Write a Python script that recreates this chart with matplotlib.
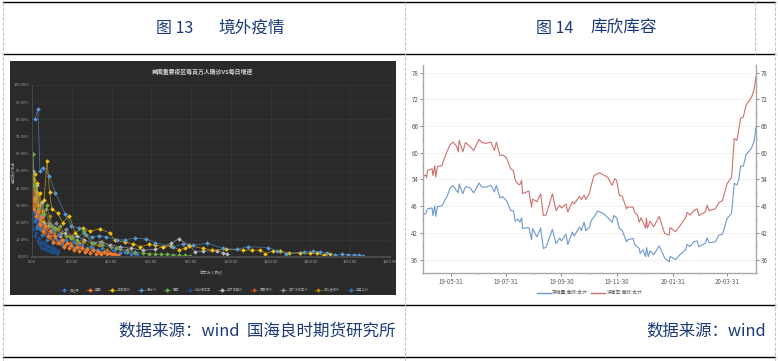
import datetime as dt

import matplotlib
matplotlib.use('Agg')
import matplotlib.pyplot as plt
import matplotlib.dates as mdates
from matplotlib.colors import to_rgba
from matplotlib.patches import Rectangle

plt.rcParams['font.family'] = ['Noto Sans CJK SC', 'DejaVu Sans']

# ---- left chart data: cases per million vs daily growth (%)
names = ['西班牙', '美国', '新泽西州', '纽约州', '巴西', '加利福尼亚', '马萨诸塞州',
         '密歇根州', '宾夕法尼亚州', '伊利诺伊州', '马里兰州']
colors = ['#3f78c8', '#ee7d31', '#f5c211', '#5b9bd5', '#70ad47', '#1f4e8c',
          '#b8b8b8', '#c55a11', '#8c8c8c', '#b8860b', '#2e75b6']

spain_x = [3, 8, 14, 20, 26, 33, 42, 50, 60, 72, 85, 100, 115, 130, 150, 170, 190, 210, 230, 250, 275, 300, 325, 350, 380, 410, 440, 470, 500, 530]
spain_y = [36, 30, 26, 22, 18, 24, 16, 19, 14, 17, 12, 15, 11, 13, 9, 10, 8, 9, 6, 7, 5, 6, 4, 5, 3, 4, 2.5, 3, 1.5, 1.5]
usa_x = [4, 9, 15, 22, 30, 38, 46, 56, 66, 78, 90, 104, 118, 134, 150, 162, 174, 186, 198, 210, 224, 236, 250, 264, 278, 292, 306, 320, 334, 348, 362, 376, 390, 404, 418, 432]
usa_y = [33, 28, 35, 24, 27, 19, 23, 15, 18, 12, 15, 9, 12, 8, 10, 6, 8, 5, 7, 4, 6, 3.5, 5, 3, 4.5, 2.5, 4, 2, 3.5, 2, 3, 1.5, 2.5, 1.5, 2, 1.2]
nj_x = [8, 14, 20, 26, 32, 40, 48, 60, 76, 88, 100, 129, 154, 187, 218, 254, 293, 340, 390, 418, 469, 507, 544, 586, 620, 661, 700, 740, 770, 790, 860, 905, 975, 1060, 1105, 1147, 1172, 1210, 1248, 1290, 1345, 1400, 1435, 1469, 1499]
nj_y = [34, 48, 31, 43, 25, 37, 21, 33, 56, 38, 28, 25.6, 20, 24, 14, 17, 15, 16.5, 14, 9.7, 8.7, 7.7, 6, 7.3, 7, 6, 6.5, 4.2, 5, 6.6, 5, 4, 4.4, 4, 4, 4, 2, 3.4, 3.4, 2.3, 2.2, 2.1, 2.2, 1, 1.8]
ny_x = [15, 30, 40, 55, 87, 117, 167, 197, 234, 262, 300, 338, 373, 427, 468, 519, 574, 619, 711, 761, 811, 880, 960, 1030, 1087, 1188, 1230, 1278, 1368, 1413, 1450, 1484, 1524, 1560, 1590, 1620, 1645, 1665]
ny_y = [80, 86, 50, 52, 47, 37.5, 25, 18, 17, 14, 11.5, 12.5, 11.5, 10, 10, 11, 10.5, 8.3, 6, 7.7, 6.7, 8, 5, 4.5, 6, 5.5, 3.2, 2, 3, 3.4, 3, 2.5, 1.1, 1.6, 1.3, 1.3, 1.3, 0.6]
brazil_x = [5, 12, 20, 30, 42, 58, 75, 95, 118, 142, 170, 200, 225, 260, 300, 350, 420, 480, 520, 560, 590, 620, 650, 680, 710, 740, 770, 795]
brazil_y = [60, 42, 35, 28, 22, 25, 30, 18, 16, 18, 12, 11, 10, 15, 8, 7, 5, 3, 2.6, 2.3, 1.9, 1.7, 1.6, 1.5, 1.3, 1.1, 0.9, 0.5]
calif_x = [5, 10, 16, 22, 28, 34, 40, 46, 52, 58, 64, 70, 76, 82, 88, 94, 100, 106, 112, 118, 124, 130]
calif_y = [22, 16, 12, 14, 9, 11, 7, 9, 5.5, 8, 4.5, 7, 4, 6.5, 3.5, 6, 3, 5, 2.8, 4.5, 2.5, 3.5]
mass_x = [6, 14, 24, 36, 48, 62, 78, 96, 116, 140, 166, 196, 228, 262, 300, 345, 390, 440, 500, 560, 620, 660, 700, 737, 790, 820, 860, 930, 960, 980]
mass_y = [50, 31, 42, 24, 32, 20, 18, 15, 17, 12, 14, 11, 12, 10, 8, 9, 7, 6, 5, 4, 4.5, 6, 8, 10.5, 7, 3, 3.5, 3.5, 2.6, 2]
mich_x = [4, 9, 15, 22, 30, 40, 50, 62, 76, 90, 106, 124, 144, 166, 190, 216, 244, 274, 306, 340, 376, 412]
mich_y = [37, 29, 31, 24, 26, 18, 22, 14, 17, 11, 13, 8, 10, 7, 8, 5, 6, 3.5, 4, 2.5, 3, 1.5]
penn_x = [5, 10, 16, 24, 32, 42, 54, 68, 84, 102, 122, 146, 172, 202, 234, 270, 310, 350, 395, 440, 480, 520]
penn_y = [60, 45, 34, 38, 26, 30, 24, 28, 20, 18, 20, 14, 16, 12, 8, 13, 8, 9, 6, 4.5, 4, 3]
illin_x = [6, 12, 20, 30, 42, 56, 72, 90, 110, 132, 158, 188, 220, 256, 296, 336, 376]
illin_y = [46, 35, 30, 36, 22, 27, 18, 24, 14, 16, 10, 12, 8, 9, 6, 7, 4]
mary_x = [4, 10, 18, 26, 36, 48, 60, 74, 90, 108, 128, 150, 176, 204, 236, 270, 306, 346]
mary_y = [30, 21, 25, 17, 20, 13, 16, 10, 12, 8, 10, 7, 8, 6, 6.5, 4, 4.5, 3]

series_x = [spain_x, usa_x, nj_x, ny_x, brazil_x, calif_x, mass_x, mich_x, penn_x, illin_x, mary_x]
series_y = [spain_y, usa_y, nj_y, ny_y, brazil_y, calif_y, mass_y, mich_y, penn_y, illin_y, mary_y]
# later entries are drawn on top
draw_order = [6, 8, 9, 2, 3, 4, 0, 10, 7, 1, 5]
pct_ticks = list(range(0, 101, 10))
case_ticks = list(range(0, 1801, 200))

# ---- right chart data: days after 2019-04-30
stock_days = [0, 1, 3, 5, 10, 11, 13, 14, 16, 21, 27, 30, 33, 39, 40, 44, 47, 52, 56, 62, 65, 70, 75, 79, 81, 85, 88, 92, 97, 100, 102, 105, 107, 109, 110, 117, 120, 121, 126, 130, 133, 136, 143, 147, 151, 153, 158, 160, 165, 167, 173, 175, 178, 180, 184, 186, 189, 193, 200, 209, 211, 214, 217, 220, 225, 226, 232, 234, 239, 240, 243, 246, 247, 249, 251, 255, 261, 267, 272, 273, 279, 284, 290, 292, 295, 299, 303, 305, 312, 314, 316, 323, 327, 331, 336, 341, 344, 347, 349, 351, 354, 357, 363, 366, 368]
stock_vals = [45.9, 46.2, 46.3, 47.4, 47.6, 45.9, 48.1, 45.7, 47.9, 48.1, 50.4, 52.1, 52.6, 51, 53, 50.8, 52.4, 52.1, 51, 53.2, 52.3, 52.3, 52.7, 51.2, 52.7, 49.9, 50.1, 49.3, 47, 47, 44.6, 45.1, 44.4, 45.4, 43, 43.2, 40.5, 43, 41.1, 43.1, 38.5, 38.8, 42.8, 39.6, 40.8, 40.2, 41.7, 39.4, 42.2, 41.3, 43.3, 42.5, 44.4, 42.5, 43.3, 44.8, 45.6, 46.9, 46.3, 44.4, 45.9, 45.4, 43, 42.6, 40, 40.4, 40.8, 39.4, 38.5, 37.4, 38.2, 36.7, 38.7, 36.7, 38, 37.1, 39.1, 36.4, 35.5, 36.7, 36, 37.1, 38.2, 39.4, 38.9, 40, 40.2, 38.9, 39.7, 40.9, 39.8, 40, 41.5, 41.7, 45.2, 46.4, 53.1, 52.8, 54, 57, 57, 59.6, 61, 62.7, 65.8]
full_days = [0, 1, 3, 4, 5, 10, 11, 13, 14, 16, 21, 22, 27, 30, 33, 37, 39, 40, 44, 47, 52, 56, 62, 65, 70, 75, 79, 81, 85, 88, 92, 97, 100, 102, 105, 107, 109, 110, 117, 120, 121, 126, 130, 133, 136, 143, 147, 151, 153, 158, 160, 165, 167, 173, 175, 178, 180, 184, 186, 189, 195, 204, 209, 212, 214, 217, 220, 225, 226, 232, 234, 237, 239, 241, 246, 247, 248, 251, 255, 261, 267, 272, 273, 279, 284, 290, 292, 295, 299, 303, 305, 312, 314, 316, 323, 327, 331, 336, 341, 344, 347, 351, 354, 357, 363, 366, 368]
full_vals = [54.2, 54.8, 55, 54.4, 56, 56.4, 54.9, 57.1, 54.5, 56.9, 57.1, 57.9, 60.5, 61.8, 62.4, 61.5, 60.2, 62.8, 60.2, 62.3, 61.4, 60.5, 63, 62.3, 62.1, 62.4, 60.5, 62.4, 59.4, 59.5, 58.9, 56.4, 55.9, 53.8, 53, 52.8, 53.8, 50.8, 51.4, 47.8, 49.6, 49, 50.8, 45.9, 46, 50.8, 47, 48.2, 47.6, 48.5, 46.7, 49, 48.5, 50.2, 49.5, 50.5, 49.5, 51, 52.7, 54.9, 55.5, 54.5, 52.7, 54.2, 53.8, 50.4, 50.3, 47.4, 47.8, 47.8, 46.6, 46, 44.4, 45.4, 43.1, 45.4, 43.1, 44.6, 43.4, 45.7, 41.9, 41.5, 43.2, 42.3, 43.6, 45.4, 46.6, 46, 47, 47.4, 45.9, 46.7, 48.2, 47, 47.4, 48.8, 49.3, 53, 54.5, 63.2, 62.8, 67.8, 68, 70.7, 72.4, 74.3, 77.2]
start_date = dt.date(2019, 4, 30)
date_ticks = ['2019-05-31', '2019-07-31', '2019-09-30', '2019-11-30', '2020-01-31', '2020-03-31']
date_minor = ['2019-06-30', '2019-08-31', '2019-10-31', '2019-12-31', '2020-02-29']
left_ticks = [36, 42, 48, 54, 60, 66, 72, 78]
minor_ticks = [33, 39, 45, 51, 57, 63, 69, 75]

W, H = 778, 361
NAVY = '#1c3a7a'


def px_axes(fig, x0, y0, x1, y1):
    # pixel box (y from top) -> axes
    return fig.add_axes([x0 / W, 1 - y1 / H, (x1 - x0) / W, (y1 - y0) / H])


def main():
    fig = plt.figure(figsize=(W / 100, H / 100), dpi=100, facecolor='white')

    # table frame and panel
    bg = fig.add_axes([0, 0, 1, 1])
    bg.set_xlim(0, W)
    bg.set_ylim(H, 0)
    bg.axis('off')
    for y in [2, 54, 305, 357]:
        bg.plot([3, 775], [y, y], color='black', lw=1.0)
    for x in [3, 405, 775]:
        bg.plot([x, x], [2, 361], color='#c4c4c4', lw=0.8, ls=(0, (3, 1.5)))
    bg.plot([755, 755], [2, 54], color='#c4c4c4', lw=0.8, ls=(0, (3, 1.5)))
    bg.add_patch(Rectangle((10, 61), 386, 234, color='#2a2a2a', lw=0))

    bg.text(156, 28, '图 13', color=NAVY, fontsize=11.5, va='center', ha='left')
    bg.text(218, 28, '境外疫情', color=NAVY, fontsize=12, va='center', ha='left')
    bg.text(536, 28, '图 14', color=NAVY, fontsize=11.5, va='center', ha='left')
    bg.text(590, 28, '库欣库容', color=NAVY, fontsize=12, va='center', ha='left')
    bg.text(396, 331, '数据来源：wind  国海良时期货研究所', color=NAVY, fontsize=11.9, va='center', ha='right')
    bg.text(766, 331, '数据来源：wind', color=NAVY, fontsize=11.8, va='center', ha='right')

    # left: dark scatter lines
    ax = px_axes(fig, 32, 85, 390, 257)
    ax.set_facecolor('none')
    handles = {}
    for i in draw_order:
        c = colors[i]
        handles[i], = ax.plot(series_x[i], series_y[i], color=to_rgba(c, 0.6), lw=0.6, marker='D', ms=2.1,
                              mec=c, mfc=c, mew=0.2, label=names[i])
    ax.set_xlim(0, 1800)
    ax.set_ylim(0, 100)
    ax.set_xticks(case_ticks)
    ax.set_xticklabels(['%.2f' % v for v in case_ticks])
    ax.set_yticks(pct_ticks)
    ax.set_yticklabels(['%.2f%%' % v for v in pct_ticks])
    ax.tick_params(length=0, labelsize=2.8, colors='#a8a8a8', pad=2)
    ax.grid(color='#363636', lw=0.5)
    ax.set_axisbelow(True)
    for s in ['top', 'right']:
        ax.spines[s].set_visible(False)
    ax.spines['left'].set_color('#484848')
    ax.spines['left'].set_linewidth(0.7)
    ax.spines['bottom'].set_color('#484848')
    ax.spines['bottom'].set_linewidth(1.5)
    bg.text(203, 72, '美国重要疫区每百万人确诊VS每日增速', color='#d4d4d4', fontsize=4.2, ha='center', va='center', fontweight='bold')
    bg.text(211, 273, '每百万人确诊', color='#a8a8a8', fontsize=2.8, ha='center', va='center')
    bg.text(13.5, 172, '每日确诊增速', color='#a8a8a8', fontsize=2.6, ha='center', va='center', rotation=90)
    leg = ax.legend([handles[i] for i in range(11)], names, loc='center', bbox_to_anchor=(0.51, -0.19), ncol=11,
                    frameon=False, fontsize=2.3, handlelength=2.6, columnspacing=2.0, handletextpad=0.4,
                    labelcolor='#a0a0a0', borderpad=0)
    for line in leg.get_lines():
        line.set_linewidth(0.5)

    # right: Cushing stocks, twin labelled axes
    ar = px_axes(fig, 423, 65, 756, 273)
    stock_dates = [start_date + dt.timedelta(days=d) for d in stock_days]
    full_dates = [start_date + dt.timedelta(days=d) for d in full_days]
    ar.plot(stock_dates, stock_vals, color='#6f97d0', lw=0.8, label='存储量:库欣:合计')
    ar.plot(full_dates, full_vals, color='#cf6f6f', lw=0.8, label='满库率:库欣:合计')
    ar.set_xlim(start_date, dt.date(2020, 5, 2))
    ar.set_ylim(33, 79.7)
    ar.set_xticks([dt.date.fromisoformat(d) for d in date_ticks])
    ar.set_xticks([dt.date.fromisoformat(d) for d in date_minor], minor=True)
    ar.xaxis.set_major_formatter(mdates.DateFormatter('%y-%m-%d'))
    ar.set_yticks(left_ticks)
    ar.set_yticks(minor_ticks, minor=True)
    ar.grid(axis='y', color='#f0f0f0', lw=0.6)
    ar.set_axisbelow(True)
    ar.tick_params(which='both', labelsize=4.4, colors='#555555', length=2, width=0.5, pad=1.5, labelright=True, right=True)
    ar.tick_params(which='minor', length=1)
    ar.spines['top'].set_visible(False)
    for s in ['left', 'right', 'bottom']:
        ar.spines[s].set_color('#a8a8a8')
        ar.spines[s].set_linewidth(1.0)
    leg2 = ar.legend(loc='center', bbox_to_anchor=(0.5, -0.095), ncol=2, frameon=False, fontsize=3.4,
                     handlelength=3, columnspacing=0.7, handletextpad=0.3, labelcolor='#555555', borderpad=0)
    for line in leg2.get_lines():
        line.set_linewidth(1.0)

    fig.savefig('out.png', dpi=100)


if __name__ == "__main__":
    main()
